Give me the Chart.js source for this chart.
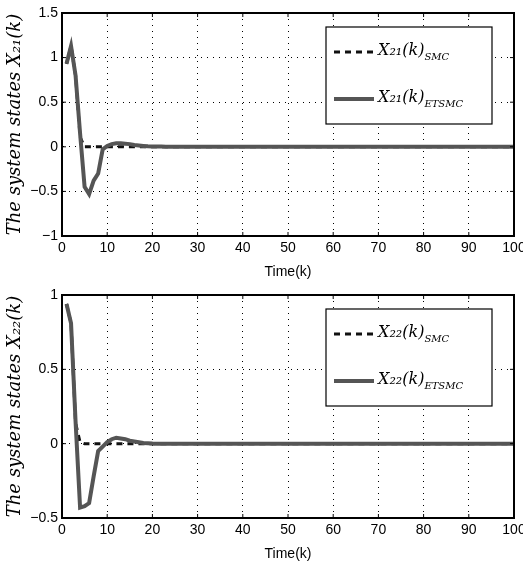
<!DOCTYPE html>
<html>
<head>
<meta charset="utf-8">
<script src="https://cdn.jsdelivr.net/npm/chart.js@4.4.1/dist/chart.umd.min.js"></script>
<style>
  html, body { margin: 0; padding: 0; background: #fff; }
  .box { position: absolute; left: 0; width: 523px; height: 283px; }
</style>
</head>
<body>
<div class="box" style="top:0"><canvas id="top" width="523" height="283"></canvas></div>
<div class="box" style="top:282px"><canvas id="bottom" width="523" height="283"></canvas></div>
<script>
// time steps k = 1..100
const steps = Array.from({length: 100}, (_, i) => i + 1);

// X21(k)
const x21Smc = [
  0.93, 1.13, 0.80, 0.11, 0, 0, 0, 0, 0, 0, 0, 0, 0, 0, 0, 0, 0, 0, 0, 0,
  0, 0, 0, 0, 0, 0, 0, 0, 0, 0, 0, 0, 0, 0, 0, 0, 0, 0, 0, 0,
  0, 0, 0, 0, 0, 0, 0, 0, 0, 0, 0, 0, 0, 0, 0, 0, 0, 0, 0, 0,
  0, 0, 0, 0, 0, 0, 0, 0, 0, 0, 0, 0, 0, 0, 0, 0, 0, 0, 0, 0,
  0, 0, 0, 0, 0, 0, 0, 0, 0, 0, 0, 0, 0, 0, 0, 0, 0, 0, 0, 0
];
const x21Etsmc = [
  0.93, 1.13, 0.80, 0.15, -0.45, -0.53, -0.38, -0.30, -0.03, 0.01, 0.03, 0.04, 0.04, 0.035, 0.03, 0.02, 0.015, 0.01, 0.006, 0.004,
  0.003, 0.002, 0.001, 0.001, 0, 0, 0, 0, 0, 0, 0, 0, 0, 0, 0, 0, 0, 0, 0, 0,
  0, 0, 0, 0, 0, 0, 0, 0, 0, 0, 0, 0, 0, 0, 0, 0, 0, 0, 0, 0,
  0, 0, 0, 0, 0, 0, 0, 0, 0, 0, 0, 0, 0, 0, 0, 0, 0, 0, 0, 0,
  0, 0, 0, 0, 0, 0, 0, 0, 0, 0, 0, 0, 0, 0, 0, 0, 0, 0, 0, 0
];

// X22(k)
const x22Smc = [
  0.94, 0.81, 0.14, 0.01, 0, 0, 0, 0, 0, 0, 0, 0, 0, 0, 0, 0, 0, 0, 0, 0,
  0, 0, 0, 0, 0, 0, 0, 0, 0, 0, 0, 0, 0, 0, 0, 0, 0, 0, 0, 0,
  0, 0, 0, 0, 0, 0, 0, 0, 0, 0, 0, 0, 0, 0, 0, 0, 0, 0, 0, 0,
  0, 0, 0, 0, 0, 0, 0, 0, 0, 0, 0, 0, 0, 0, 0, 0, 0, 0, 0, 0,
  0, 0, 0, 0, 0, 0, 0, 0, 0, 0, 0, 0, 0, 0, 0, 0, 0, 0, 0, 0
];
const x22Etsmc = [
  0.94, 0.81, 0.15, -0.43, -0.42, -0.40, -0.22, -0.05, -0.02, 0.01, 0.03, 0.04, 0.035, 0.03, 0.02, 0.015, 0.01, 0.005, 0.003, 0.001,
  0, 0, 0, 0, 0, 0, 0, 0, 0, 0, 0, 0, 0, 0, 0, 0, 0, 0, 0, 0,
  0, 0, 0, 0, 0, 0, 0, 0, 0, 0, 0, 0, 0, 0, 0, 0, 0, 0, 0, 0,
  0, 0, 0, 0, 0, 0, 0, 0, 0, 0, 0, 0, 0, 0, 0, 0, 0, 0, 0, 0,
  0, 0, 0, 0, 0, 0, 0, 0, 0, 0, 0, 0, 0, 0, 0, 0, 0, 0, 0, 0
];

const xTitle = 'Time(k)';
const yTitles = ['The system states X₂₁(k)', 'The system states X₂₂(k)'];
const legendMain = ['X₂₁(k)', 'X₂₂(k)'];
const legendSubs = ['SMC', 'ETSMC'];

const tickFont = {family: '"Liberation Sans Narrow", "Liberation Sans", Arial, sans-serif', size: 14};
const mathFont = '"DejaVu Serif", "Liberation Serif", serif';

// frame, inner ticks and the legend box
const framePlugin = {
  id: 'frame',
  afterDatasetsDraw(chart) {
    const {ctx, chartArea: a, scales} = chart;
    ctx.save();
    ctx.strokeStyle = '#000';
    ctx.lineWidth = 1;
    scales.x.ticks.forEach(t => {
      const px = scales.x.getPixelForValue(t.value);
      ctx.beginPath();
      ctx.moveTo(px, a.bottom); ctx.lineTo(px, a.bottom - 4);
      ctx.moveTo(px, a.top); ctx.lineTo(px, a.top + 4);
      ctx.stroke();
    });
    scales.y.ticks.forEach(t => {
      const py = scales.y.getPixelForValue(t.value);
      ctx.beginPath();
      ctx.moveTo(a.left, py); ctx.lineTo(a.left + 4, py);
      ctx.moveTo(a.right, py); ctx.lineTo(a.right - 4, py);
      ctx.stroke();
    });
    ctx.lineWidth = 2;
    ctx.strokeRect(a.left, a.top, a.right - a.left, a.bottom - a.top);

    // legend
    const lx = a.right - 188, ly = a.top + 14, lw = 166, lh = 97;
    ctx.fillStyle = '#fff';
    ctx.fillRect(lx, ly, lw, lh);
    ctx.lineWidth = 1.2;
    ctx.strokeRect(lx, ly, lw, lh);
    const items = chart.options.plugins.frame.items;
    items.forEach((it, i) => {
      const y = ly + 25 + i * 47;
      const ds = chart.data.datasets[it.ds];
      ctx.beginPath();
      ctx.strokeStyle = ds.borderColor;
      ctx.lineWidth = ds.borderWidth;
      ctx.setLineDash(ds.borderDash || []);
      ctx.moveTo(lx + 8, y); ctx.lineTo(lx + 48, y);
      ctx.stroke();
      ctx.setLineDash([]);
      ctx.fillStyle = '#000';
      ctx.textBaseline = 'middle';
      ctx.textAlign = 'left';
      ctx.font = 'italic 16px ' + mathFont;
      ctx.fillText(it.main, lx + 52, y - 1);
      const w = ctx.measureText(it.main).width;
      ctx.font = 'italic 10px ' + mathFont;
      ctx.fillText(it.sub, lx + 52 + w, y + 5);
    });
    ctx.restore();
  }
};

function makeChart(id, smc, etsmc, yMin, yMax, yTitle, main) {
  return new Chart(document.getElementById(id), {
    type: 'line',
    data: {
      labels: steps,
      datasets: [{
        label: main + 'SMC',
        data: smc,
        borderColor: '#111',
        borderWidth: 3,
        borderDash: [6, 5],
        pointRadius: 0,
        order: 1
      }, {
        label: main + 'ETSMC',
        data: etsmc,
        borderColor: '#555',
        borderWidth: 4,
        pointRadius: 0,
        order: 0
      }]
    },
    options: {
      responsive: false,
      animation: false,
      layout: {padding: {top: 13, right: 0, left: 0, bottom: 0}},
      plugins: {
        legend: {display: false},
        tooltip: {enabled: false},
        frame: {items: [
          {ds: 0, main: main, sub: legendSubs[0]},
          {ds: 1, main: main, sub: legendSubs[1]}
        ]}
      },
      scales: {
        x: {
          type: 'linear',
          min: 0, max: 100,
          ticks: {stepSize: 10, color: '#000', font: tickFont, padding: 4, maxRotation: 0},
          grid: {color: '#000', lineWidth: 1, drawTicks: false},
          border: {display: true, color: '#000', width: 2, dash: [1, 5]},
          title: {display: true, text: xTitle, color: '#000', font: tickFont, padding: {top: 2, bottom: 2}},
          afterFit(s) { s.height = 47; s.paddingRight = 9; s.paddingLeft = 0; }
        },
        y: {
          min: yMin, max: yMax,
          ticks: {stepSize: 0.5, color: '#000', font: tickFont, padding: 4,
            callback: v => String(v).replace('-', '−')},
          grid: {color: '#000', lineWidth: 1, drawTicks: false},
          border: {display: true, color: '#000', width: 2, dash: [1, 5]},
          title: {display: true, text: yTitle, color: '#000',
            font: {family: mathFont, size: 18, style: 'italic'}, padding: {top: 5, bottom: 0}},
          afterFit(s) { s.width = 62; }
        }
      }
    },
    plugins: [framePlugin]
  });
}

makeChart('top', x21Smc, x21Etsmc, -1, 1.5, yTitles[0], legendMain[0]);
makeChart('bottom', x22Smc, x22Etsmc, -0.5, 1, yTitles[1], legendMain[1]);
</script>
</body>
</html>
